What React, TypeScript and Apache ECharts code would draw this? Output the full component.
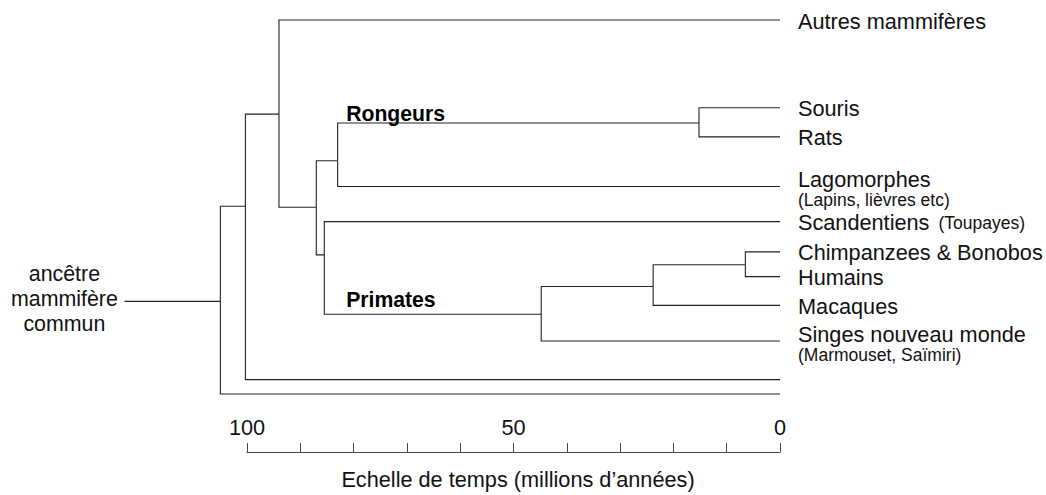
import React, { useEffect, useRef } from "react";
import * as echarts from "echarts";

// Time scale (millions of years before present)
const tickLabels = [0, 50, 100];
const stemAge = 123;
const rootLabel = "ancêtre\nmammifère\ncommun";

// Leaves (extant lineages, age 0)
const leafNames = [
  "Autres mammifères",
  "Souris",
  "Rats",
  "Lagomorphes",
  "Scandentiens",
  "Chimpanzees & Bonobos",
  "Humains",
  "Macaques",
  "Singes nouveau monde",
  "",
  "",
];
const leafNotes = ["", "", "", "(Lapins, lièvres etc)", "(Toupayes)", "", "", "", "(Marmouset, Saïmiri)", "", ""];
const leafRows = [0, 8.85, 11.8, 16.8, 20.35, 23.4, 25.9, 28.8, 32.4, 36.3, 37.75];
const leafParents = [2, 5, 5, 4, 6, 9, 9, 8, 7, 1, 0];

// Internal nodes (divergences)
const nodeNames = ["racine", "n1", "n2", "n3", "Glires", "Rongeurs", "Euarchontes", "Primates", "Catarrhiniens", "Hominidés"];
const nodeLabels = ["", "", "", "", "", "Rongeurs", "", "Primates", "", ""];
const nodeAges = [105, 100.3, 94, 87, 83, 15.2, 85.5, 44.8, 23.8, 6.5];
const nodeRows = [28.4, 18.8, 9.5, 18.9, 14.2, 10.4, 23.7, 29.7, 26.9, 24.7];
const nodeParents = [-1, 0, 1, 2, 3, 4, 3, 6, 7, 8];

const FONT = '"Liberation Sans", Arial, Helvetica, sans-serif';
const LINE = "#222";
const TEXT = "#111";
const MAIN = 21.7;
const NOTE = 17.5;

export default function App() {
  const ref = useRef<HTMLDivElement>(null);

  useEffect(() => {
    document.body.style.margin = "0";
    if (!ref.current) return;
    const chart = echarts.init(ref.current, null, { renderer: "svg" });

    const segments: number[][] = [];
    nodeAges.forEach((age, i) => {
      const p = nodeParents[i];
      if (p < 0) segments.push([stemAge, nodeRows[i], age, nodeRows[i]]);
      else segments.push([nodeAges[p], nodeRows[p], age, nodeRows[i]]);
    });
    leafRows.forEach((row, j) => {
      const p = leafParents[j];
      segments.push([nodeAges[p], nodeRows[p], 0, row]);
    });

    const leafData = leafRows.map((row, j) => [0, row, j]);
    const nodeData = nodeRows.map((row, i) => [nodeAges[i], row, i]);

    const inlineNotes = new Set(["Scandentiens"]);
    const cladeDy: Record<string, number> = { Rongeurs: -10, Primates: -15 };
    const cladeAge = 81.4;

    chart.setOption({
      animation: false,
      grid: { left: 247, right: 266, top: 20, bottom: 39 },
      xAxis: {
        type: "value",
        position: "bottom",
        inverse: true,
        min: 0,
        max: 100,
        interval: 10,
        splitLine: { show: false },
        axisLine: { show: true, onZero: false, lineStyle: { color: "#444", width: 1 } },
        axisTick: { show: true, inside: true, length: 9, lineStyle: { color: "#444" } },
        axisLabel: {
          inside: true,
          margin: 14,
          showMinLabel: true,
          showMaxLabel: true,
          color: TEXT,
          fontSize: MAIN,
          fontFamily: FONT,
          formatter: (v: number) => (tickLabels.includes(v) ? String(v) : ""),
        },
        name: "Echelle de temps (millions d’années)",
        nameLocation: "middle",
        nameGap: 16,
        nameTextStyle: { color: TEXT, fontSize: MAIN, fontFamily: FONT, verticalAlign: "top", padding: [0, 0, 0, 9] },
      },
      yAxis: { type: "value", inverse: true, min: 0, max: 43.6, show: false },
      series: [
        {
          type: "custom",
          name: "branches",
          clip: false,
          encode: { x: [0, 2], y: [1, 3] },
          data: segments,
          renderItem: (params: any, api: any) => {
            const a = api.coord([api.value(0), api.value(1)]);
            const b = api.coord([api.value(0), api.value(3)]);
            const c = api.coord([api.value(2), api.value(3)]);
            return {
              type: "polyline",
              shape: { points: [a, b, c] },
              style: { stroke: LINE, lineWidth: 1.1, fill: null },
            };
          },
        },
        {
          type: "custom",
          name: "feuilles",
          clip: false,
          encode: { x: 0, y: 1 },
          data: leafData,
          renderItem: (params: any, api: any) => {
            const j = api.value(2);
            const name = leafNames[j];
            const note = leafNotes[j];
            const pt = api.coord([api.value(0), api.value(1)]);
            const x = pt[0] + 18;
            const children: any[] = [];
            if (!name) return { type: "group", children };
            if (note && inlineNotes.has(name)) {
              children.push({
                type: "text",
                x,
                y: pt[1] + 1,
                style: {
                  text: `{m|${name}}{n|${note}}`,
                  align: "left",
                  verticalAlign: "middle",
                  rich: {
                    m: { fontSize: MAIN, fontFamily: FONT, fill: TEXT, color: TEXT },
                    n: { fontSize: NOTE, fontFamily: FONT, fill: TEXT, color: TEXT, padding: [0, 0, 0, 9] },
                  },
                },
              });
            } else if (note) {
              children.push({
                type: "text",
                x,
                y: pt[1] - 7,
                style: { text: name, fontSize: MAIN, fontFamily: FONT, fill: TEXT, align: "left", verticalAlign: "middle" },
              });
              children.push({
                type: "text",
                x,
                y: pt[1] + 13.5,
                style: { text: note, fontSize: NOTE, fontFamily: FONT, fill: TEXT, align: "left", verticalAlign: "middle" },
              });
            } else {
              children.push({
                type: "text",
                x,
                y: pt[1] + 1,
                style: { text: name, fontSize: MAIN, fontFamily: FONT, fill: TEXT, align: "left", verticalAlign: "middle" },
              });
            }
            return { type: "group", children };
          },
        },
        {
          type: "custom",
          name: "clades",
          clip: false,
          encode: { x: 0, y: 1 },
          data: nodeData,
          renderItem: (params: any, api: any) => {
            const i = api.value(2);
            const pt = api.coord([api.value(0), api.value(1)]);
            const children: any[] = [];
            const label = nodeLabels[i];
            if (label) {
              const lx = api.coord([cladeAge, api.value(1)])[0];
              children.push({
                type: "text",
                x: lx,
                y: pt[1] + (cladeDy[label] ?? -12),
                style: { text: label, fontSize: MAIN - 0.5, fontWeight: "bold", fontFamily: FONT, fill: "#000", align: "left", verticalAlign: "middle" },
              });
            }
            if (nodeParents[i] < 0) {
              const sx = api.coord([stemAge, api.value(1)])[0];
              children.push({
                type: "text",
                x: sx - 60,
                y: pt[1] - 2,
                style: {
                  text: rootLabel,
                  fontSize: MAIN - 0.3,
                  lineHeight: 25,
                  fontFamily: FONT,
                  fill: TEXT,
                  align: "center",
                  verticalAlign: "middle",
                },
              });
            }
            return { type: "group", children };
          },
        },
      ],
    });

    return () => chart.dispose();
  }, []);

  return <div ref={ref} style={{ width: 1046, height: 495 }} />;
}
